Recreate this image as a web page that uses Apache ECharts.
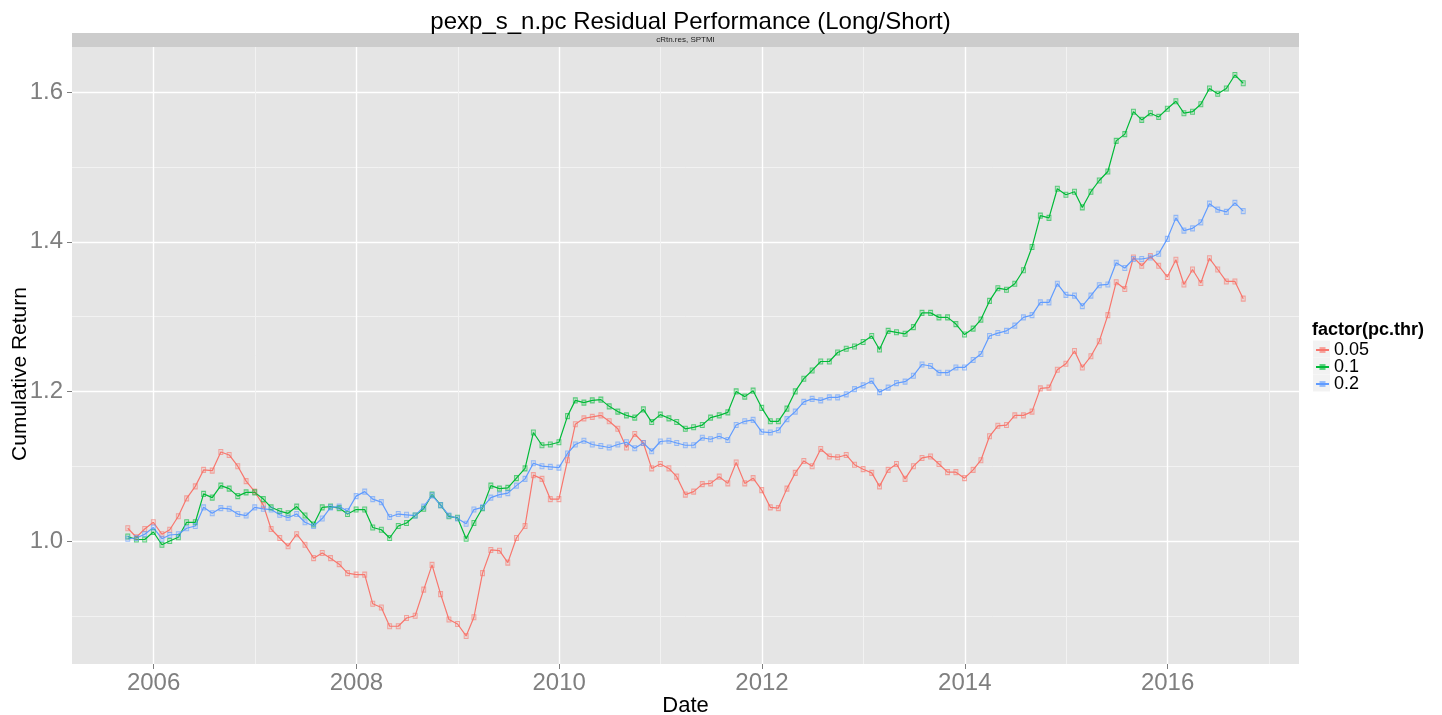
<!DOCTYPE html>
<html>
<head>
<meta charset="utf-8">
<title>pexp_s_n.pc Residual Performance</title>
<script src="https://cdn.jsdelivr.net/npm/echarts@6/dist/echarts.min.js"></script>
<style>
	html, body { margin: 0; padding: 0; background: #fff; }
	#chart { width: 1442px; height: 715px; }
</style>
</head>
<body>
<div id="chart"></div>
<script>
// monthly observations, month-end from Sep 2005 to Sep 2016
var startYear = 2005;
var startMonth = 9;
var monthCount = 133;

var thresholds = ['0.05', '0.1', '0.2'];

// cumulative return, pc.thr = 0.05
var ret005 = [1.017, 1.005, 1.016, 1.025, 1.009, 1.015, 1.033, 1.057, 1.073, 1.095, 1.094, 1.119,
	1.115, 1.100, 1.080, 1.066, 1.048, 1.016, 1.004, 0.993, 1.009, 0.995, 0.977, 0.984,
	0.977, 0.969, 0.957, 0.955, 0.955, 0.916, 0.911, 0.886, 0.886, 0.897, 0.900, 0.935,
	0.968, 0.929, 0.895, 0.889, 0.873, 0.898, 0.957, 0.988, 0.987, 0.971, 1.004, 1.020,
	1.088, 1.083, 1.056, 1.056, 1.108, 1.156, 1.164, 1.166, 1.168, 1.160, 1.150, 1.125,
	1.143, 1.131, 1.097, 1.103, 1.097, 1.086, 1.062, 1.066, 1.076, 1.077, 1.086, 1.077,
	1.105, 1.077, 1.084, 1.068, 1.045, 1.044, 1.070, 1.091, 1.107, 1.100, 1.123, 1.113,
	1.112, 1.115, 1.102, 1.096, 1.091, 1.073, 1.095, 1.103, 1.083, 1.100, 1.111, 1.113,
	1.103, 1.092, 1.092, 1.084, 1.095, 1.108, 1.140, 1.154, 1.155, 1.168, 1.168, 1.173,
	1.204, 1.205, 1.229, 1.237, 1.254, 1.232, 1.247, 1.267, 1.302, 1.346, 1.337, 1.379,
	1.368, 1.381, 1.368, 1.353, 1.376, 1.343, 1.363, 1.345, 1.378, 1.363, 1.347, 1.347,
	1.324];

// cumulative return, pc.thr = 0.1
var ret01 = [1.006, 1.002, 1.002, 1.012, 0.995, 1.000, 1.005, 1.025, 1.025, 1.063, 1.058, 1.074,
	1.070, 1.060, 1.065, 1.065, 1.056, 1.045, 1.040, 1.037, 1.046, 1.034, 1.022, 1.045,
	1.046, 1.044, 1.036, 1.042, 1.042, 1.018, 1.015, 1.004, 1.020, 1.024, 1.034, 1.043,
	1.062, 1.048, 1.033, 1.031, 1.003, 1.024, 1.044, 1.074, 1.070, 1.071, 1.084, 1.097,
	1.145, 1.128, 1.129, 1.132, 1.167, 1.188, 1.185, 1.188, 1.189, 1.180, 1.173, 1.168,
	1.165, 1.176, 1.159, 1.169, 1.164, 1.159, 1.150, 1.152, 1.155, 1.165, 1.168, 1.172,
	1.200, 1.193, 1.201, 1.178, 1.160, 1.160, 1.177, 1.200, 1.217, 1.228, 1.240, 1.240,
	1.252, 1.257, 1.260, 1.266, 1.274, 1.256, 1.281, 1.279, 1.277, 1.286, 1.305, 1.305,
	1.299, 1.299, 1.290, 1.276, 1.284, 1.296, 1.321, 1.338, 1.336, 1.344, 1.362, 1.393,
	1.435, 1.432, 1.471, 1.463, 1.467, 1.446, 1.467, 1.482, 1.494, 1.535, 1.544, 1.574,
	1.563, 1.572, 1.567, 1.578, 1.588, 1.572, 1.574, 1.584, 1.605, 1.598, 1.605, 1.623,
	1.612];

// cumulative return, pc.thr = 0.2
var ret02 = [1.003, 1.004, 1.009, 1.018, 1.003, 1.008, 1.009, 1.017, 1.020, 1.045, 1.037, 1.044,
	1.043, 1.036, 1.034, 1.045, 1.043, 1.042, 1.035, 1.031, 1.036, 1.025, 1.020, 1.030,
	1.045, 1.046, 1.040, 1.060, 1.066, 1.056, 1.052, 1.032, 1.036, 1.035, 1.034, 1.046,
	1.061, 1.048, 1.034, 1.030, 1.023, 1.042, 1.045, 1.058, 1.062, 1.064, 1.074, 1.083,
	1.104, 1.100, 1.099, 1.098, 1.117, 1.129, 1.134, 1.129, 1.127, 1.125, 1.129, 1.132,
	1.124, 1.131, 1.120, 1.133, 1.134, 1.131, 1.128, 1.128, 1.138, 1.136, 1.140, 1.135,
	1.155, 1.160, 1.162, 1.146, 1.145, 1.148, 1.163, 1.173, 1.186, 1.190, 1.188, 1.192,
	1.192, 1.196, 1.203, 1.208, 1.214, 1.199, 1.205, 1.211, 1.213, 1.221, 1.236, 1.234,
	1.225, 1.225, 1.232, 1.232, 1.242, 1.250, 1.274, 1.278, 1.281, 1.288, 1.299, 1.302,
	1.319, 1.319, 1.344, 1.329, 1.328, 1.314, 1.328, 1.342, 1.343, 1.372, 1.365, 1.377,
	1.377, 1.379, 1.384, 1.404, 1.432, 1.415, 1.418, 1.426, 1.451, 1.443, 1.440, 1.452,
	1.441];

var xMajorTicks = [2006, 2008, 2010, 2012, 2014, 2016];
var xMinorTicks = [2007, 2009, 2011, 2013, 2015, 2017];
var yMajorTicks = [1.0, 1.2, 1.4, 1.6];
var yMinorTicks = [0.9, 1.1, 1.3, 1.5];

(function() {
	var colors = ['#F8766D', '#00BA38', '#619CFF'];
	var fills = ['rgba(248,118,109,0.15)', 'rgba(0,186,56,0.15)', 'rgba(97,156,255,0.15)'];
	var edges = ['rgba(248,118,109,0.6)', 'rgba(0,186,56,0.6)', 'rgba(97,156,255,0.6)'];
	var font = '"Liberation Sans", Arial, Helvetica, sans-serif';

	// date -> decimal year
	function yearFrac(d) {
		var y = d.getUTCFullYear();
		var s = Date.UTC(y, 0, 1), e = Date.UTC(y + 1, 0, 1);
		return y + (d.getTime() - s) / (e - s);
	}

	var dates = [];
	for (var k = 0; k < monthCount; k++) {
		var m = startMonth - 1 + k;
		var y = startYear + Math.floor(m / 12);
		// day 0 of next month = last day of this month
		dates.push(new Date(Date.UTC(y, (m % 12) + 1, 0)));
	}
	var xs = dates.map(yearFrac);

	// ggplot style 5% expansion
	var xLo = xs[0], xHi = xs[xs.length - 1];
	var xPad = (xHi - xLo) * 0.05;
	var all = ret005.concat(ret01, ret02);
	var yLo = Math.min.apply(null, all), yHi = Math.max.apply(null, all);
	var yPad = (yHi - yLo) * 0.05;

	var seriesValues = [ret005, ret01, ret02];

	var series = seriesValues.map(function(vals, idx) {
		return {
			name: thresholds[idx],
			type: 'line',
			xAxisIndex: 0,
			yAxisIndex: 0,
			symbol: 'rect',
			symbolSize: [4, 5],
			showAllSymbol: true,
			lineStyle: { color: colors[idx], width: 1.2 },
			itemStyle: { color: fills[idx], borderColor: edges[idx], borderWidth: 1 },
			emphasis: { disabled: true },
			data: vals.map(function(v, i) { return [xs[i], v]; })
		};
	});

	var myChart = echarts.init(document.getElementById('chart'));
	var option = {
		animation: false,
		backgroundColor: '#fff',
		textStyle: { fontFamily: font },
		title: {
			text: 'pexp_s_n.pc Residual Performance (Long/Short)',
			left: 685.5,
			textAlign: 'center',
			top: 5,
			textStyle: { fontSize: 24, fontWeight: 'normal', color: '#000', fontFamily: font }
		},
		legend: {
			orient: 'vertical',
			left: 1315,
			top: 341,
			padding: 0,
			itemWidth: 13,
			itemHeight: 5,
			itemGap: -1,
			selectedMode: false,
			data: thresholds,
			textStyle: { fontSize: 18, lineHeight: 16, color: '#000', fontFamily: font }
		},
		grid: {
			left: 72,
			right: 143,
			top: 47,
			bottom: 51,
			outerBoundsMode: 'none',
			show: true,
			backgroundColor: '#E5E5E5',
			borderWidth: 0
		},
		xAxis: [{
			type: 'value',
			min: xLo - xPad,
			max: xHi + xPad,
			name: 'Date',
			nameLocation: 'middle',
			nameGap: 31,
			nameMoveOverlap: false,
			nameTextStyle: { fontSize: 22, color: '#000', fontFamily: font },
			axisLine: { show: false },
			axisTick: { length: 5, customValues: xMajorTicks, lineStyle: { color: '#7F7F7F' } },
			axisLabel: {
				customValues: xMajorTicks,
				margin: 7,
				fontSize: 24,
				color: '#7F7F7F',
				fontFamily: font,
				formatter: function(v) { return String(Math.round(v)); }
			},
			splitLine: { show: true, lineStyle: { color: '#FFFFFF', width: 1.4 } }
		}, {
			// minor grid
			type: 'value',
			position: 'bottom',
			min: xLo - xPad,
			max: xHi + xPad,
			axisLine: { show: false },
			axisTick: { show: false, customValues: xMinorTicks },
			axisLabel: { show: false },
			splitLine: { show: true, lineStyle: { color: '#F2F2F2', width: 1 } }
		}],
		yAxis: [{
			type: 'value',
			min: yLo - yPad,
			max: yHi + yPad,
			axisLine: { show: false },
			axisTick: { length: 5, customValues: yMajorTicks, lineStyle: { color: '#7F7F7F' } },
			axisLabel: {
				customValues: yMajorTicks,
				margin: 9,
				fontSize: 24,
				color: '#7F7F7F',
				fontFamily: font,
				formatter: function(v) { return v.toFixed(1); }
			},
			splitLine: { show: true, lineStyle: { color: '#FFFFFF', width: 1.4 } }
		}, {
			// minor grid
			type: 'value',
			min: yLo - yPad,
			max: yHi + yPad,
			axisLine: { show: false },
			axisTick: { show: false, customValues: yMinorTicks },
			axisLabel: { show: false },
			splitLine: { show: true, lineStyle: { color: '#F2F2F2', width: 1 } }
		}],
		graphic: [
			// y axis title, centred on the whole plot height like ggplot
			{
				type: 'text',
				x: 20,
				y: 374,
				rotation: Math.PI / 2,
				style: { text: 'Cumulative Return', fontSize: 21, fill: '#000', align: 'center', verticalAlign: 'middle', fontFamily: font },
				silent: true
			},
			// facet strip
			{
				type: 'rect',
				shape: { x: 72, y: 33, width: 1227, height: 14 },
				style: { fill: '#CCCCCC' },
				silent: true
			},
			{
				type: 'text',
				x: 685.5,
				y: 40,
				style: { text: 'cRtn.res, SPTMI', fontSize: 8, fill: '#1A1A1A', align: 'center', verticalAlign: 'middle', fontFamily: font },
				silent: true
			},
			// legend title and key backgrounds
			{
				type: 'text',
				x: 1312,
				y: 330,
				style: { text: 'factor(pc.thr)', fontSize: 18, fontWeight: 'bold', fill: '#000', verticalAlign: 'middle', fontFamily: font },
				silent: true
			},
			{ type: 'rect', shape: { x: 1313, y: 340.5, width: 17, height: 17 }, style: { fill: '#F2F2F2' }, silent: true },
			{ type: 'rect', shape: { x: 1313, y: 357.5, width: 17, height: 17 }, style: { fill: '#F2F2F2' }, silent: true },
			{ type: 'rect', shape: { x: 1313, y: 374.5, width: 17, height: 17 }, style: { fill: '#F2F2F2' }, silent: true }
		],
		series: series
	};
	myChart.setOption(option);
	window.addEventListener('resize', function() {
		myChart.resize();
	});
})();
</script>
</body>
</html>
